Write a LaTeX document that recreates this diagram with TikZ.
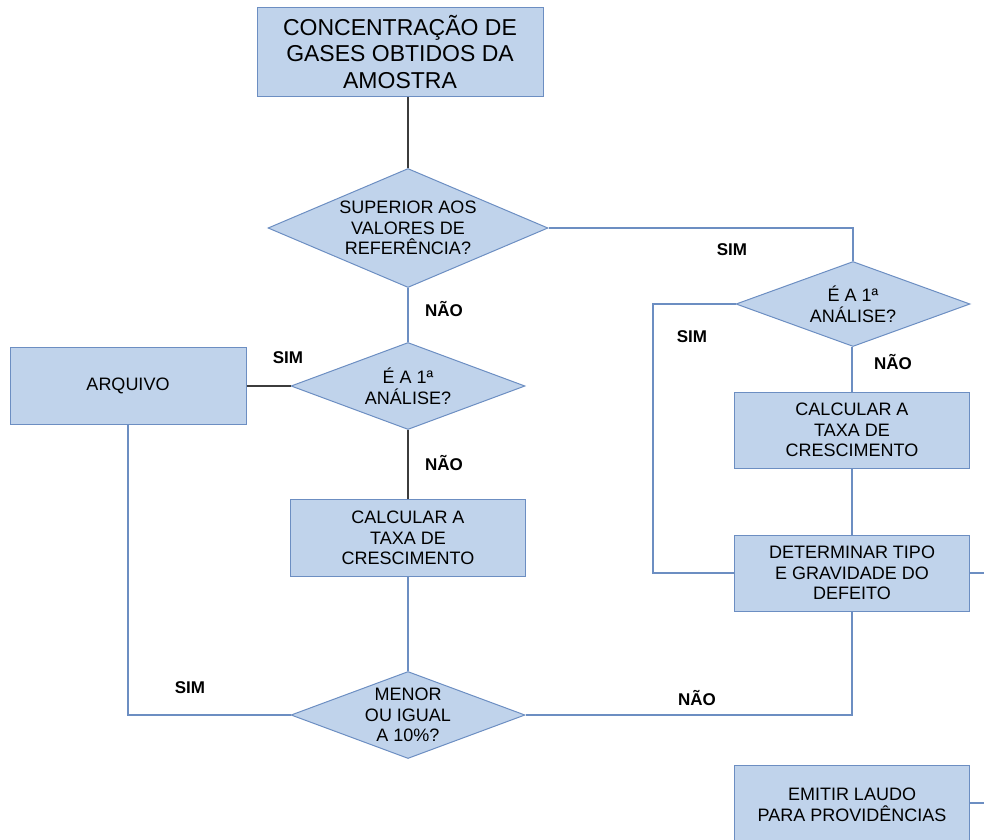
\documentclass[tikz,border=0pt]{standalone}
\usepackage{fontspec}
\setmainfont{Liberation Sans}
\usetikzlibrary{shapes.geometric}
\definecolor{boxfill}{RGB}{192,211,235}
\definecolor{boxline}{RGB}{108,142,194}
\definecolor{darkline}{RGB}{60,60,60}
\tikzstyle{procbox} = [draw=boxline,fill=boxfill,line width=1pt,rectangle,align=center,inner sep=0pt,font=\fontsize{18}{20.7}\selectfont,minimum width=235pt,minimum height=76pt]
\tikzstyle{decision} = [draw=boxline,fill=boxfill,line width=1pt,diamond,align=center,inner sep=-2pt,font=\fontsize{18}{20.7}\selectfont]
\tikzstyle{answer} = [font=\fontsize{17}{19}\selectfont\bfseries]
\tikzstyle{flow} = [draw=boxline,line width=1.2pt]
\tikzstyle{flowdark} = [draw=darkline,line width=1.2pt]

\begin{document}
\begin{tikzpicture}[x=1pt,y=-1pt]
			\useasboundingbox (0,0) rectangle (984,839);
			
			\node[procbox,minimum width=286pt,minimum height=89pt,font=\fontsize{23}{26.5}\selectfont] (gases) at (400,52) {CONCENTRAÇÃO DE\\GASES OBTIDOS DA\\AMOSTRA};
			\node[decision,minimum width=280pt,minimum height=119pt,aspect=2.35] (superior) at (408,228) {SUPERIOR AOS\\VALORES DE\\REFERÊNCIA?};
			\node[decision,minimum width=234pt,minimum height=87pt,aspect=2.7] (primeiraA) at (408,386) {É A 1ª\\ANÁLISE?};
			\node[decision,minimum width=234pt,minimum height=85pt,aspect=2.75] (primeiraB) at (853,304) {É A 1ª\\ANÁLISE?};
			\node[decision,minimum width=234pt,minimum height=87pt,aspect=2.7] (menor) at (408,715) {MENOR\\OU IGUAL\\A 10\%?};
			
			\node[procbox,minimum width=236pt,minimum height=77pt] (arquivo) at (128,386) {ARQUIVO};
			\node[procbox,minimum height=77pt] (taxaA) at (408,538) {CALCULAR A\\TAXA DE\\CRESCIMENTO};
			\node[procbox] (taxaB) at (852,430) {CALCULAR A\\TAXA DE\\CRESCIMENTO};
			\node[procbox] (defeito) at (852,573) {DETERMINAR TIPO\\E GRAVIDADE DO\\DEFEITO};
			\node[procbox,minimum height=80pt] (laudo) at (852,805) {EMITIR LAUDO\\PARA PROVIDÊNCIAS};
			
			\coordinate (volta) at (653,304);
			\coordinate (saidaA) at (984,573);
			\coordinate (saidaB) at (984,803);
			
			% ligacoes
			\draw[flowdark] (gases.south -| superior.north) -- (superior.north);
			\draw[flow] (superior.south) -- (primeiraA.north);
			\draw[flow] (superior.east) -| (primeiraB.north);
			\draw[flowdark] (arquivo.east) -- (primeiraA.west);
			\draw[flowdark] (primeiraA.south) -- (taxaA.north);
			\draw[flow] (taxaA.south) -- (menor.north);
			\draw[flow] (menor.west) -| (arquivo.south);
			\draw[flow] (primeiraB.west) -- (volta) |- (defeito.west);
			\draw[flow] (primeiraB.south -| taxaB.north) -- (taxaB.north);
			\draw[flow] (taxaB.south) -- (defeito.north);
			\draw[flow] (defeito.south) |- (menor.east);
			\draw[flow] (defeito.east) -- (saidaA);
			\draw[flow] (laudo.east |- saidaB) -- (saidaB);
			
			\node[answer] (simA) at (732,250) {SIM};
			\node[answer] (simB) at (692,337) {SIM};
			\node[answer] (simC) at (288,358) {SIM};
			\node[answer] (simD) at (190,688) {SIM};
			\node[answer] (naoA) at (444,309) {NÃO};
			\node[answer] (naoB) at (444,463) {NÃO};
			\node[answer] (naoC) at (893,362) {NÃO};
			\node[answer] (naoD) at (697,698) {NÃO};
		\end{tikzpicture}
\end{document}
